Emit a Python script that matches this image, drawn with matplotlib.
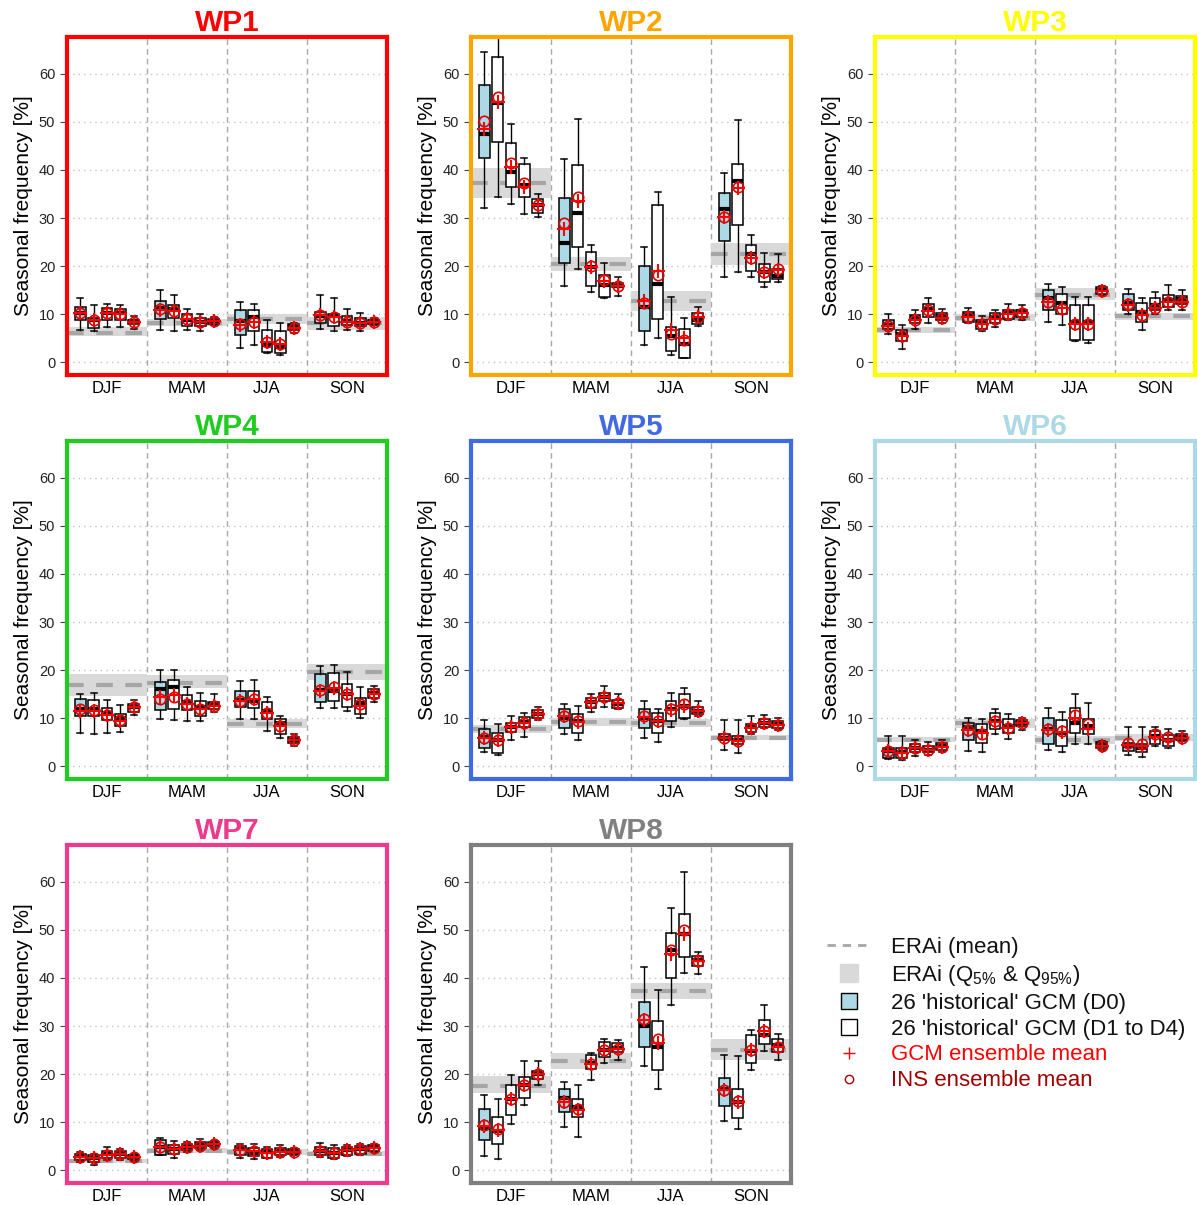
import matplotlib
matplotlib.use('Agg')
import matplotlib.pyplot as plt
import numpy as np
from matplotlib.lines import Line2D

plt.rcParams['font.family'] = ['Liberation Sans', 'DejaVu Sans']
plt.rcParams['mathtext.default'] = 'regular'

panels = ['WP1', 'WP2', 'WP3', 'WP4', 'WP5', 'WP6', 'WP7', 'WP8']
panel_colors = ['#ff0000', '#ffa500', '#ffff00', '#1fcc1f',
                '#4169e1', '#add8e6', '#ee3a8c', '#808080']
seasons = ['DJF', 'MAM', 'JJA', 'SON']

# per panel: 4 seasons x 5 boxes (D0, D1..D4)
whisk_hi = [
    [13.3, 11.9, 12.1, 11.9, 9.6, 15.0, 14.0, 11.2, 10.0, 9.4, 12.6, 12.1, 8.9, 8.2, 8.2, 14.0, 13.3, 11.2, 10.3, 9.3],
    [64.4, 69.0, 49.6, 42.4, 34.9, 42.3, 50.5, 24.3, 20.7, 17.7, 23.9, 35.4, 13.6, 9.3, 11.5, 39.4, 50.3, 26.4, 22.7, 22.5],
    [10.1, 7.7, 11.0, 13.3, 11.2, 11.3, 9.6, 11.0, 12.2, 11.9, 16.4, 15.7, 13.5, 13.5, 15.8, 15.3, 13.4, 14.7, 16.0, 15.0],
    [15.1, 15.3, 13.75, 12.7, 13.75, 20.0, 20.0, 16.6, 15.2, 15.0, 17.8, 18.0, 14.4, 10.5, 6.7, 20.9, 21.0, 19.7, 16.6, 16.7],
    [9.6, 8.9, 10.5, 11.2, 12.4, 12.9, 12.6, 15.1, 16.7, 15.0, 13.5, 11.9, 15.3, 16.2, 13.6, 9.7, 9.6, 10.5, 10.7, 10.0],
    [6.3, 6.3, 5.4, 5.1, 5.4, 10.1, 9.8, 12.0, 10.8, 10.1, 12.1, 11.4, 15.1, 13.1, 5.3, 8.2, 8.1, 8.3, 7.7, 7.4],
    [3.9, 3.5, 4.9, 4.55, 3.5, 6.8, 6.1, 5.9, 6.5, 6.1, 5.6, 5.6, 4.9, 5.2, 4.7, 5.7, 5.2, 5.2, 5.6, 5.4],
    [15.6, 14.9, 19.9, 22.7, 22.7, 18.3, 17.8, 24.4, 27.4, 27.2, 42.2, 37.5, 54.6, 62.0, 45.4, 23.9, 23.7, 29.2, 34.4, 28.3],
]
box_q3 = [
    [11.5, 9.3, 11.4, 11.2, 8.9, 12.8, 11.9, 10.0, 9.3, 9.1, 10.9, 11.0, 6.8, 6.5, 7.9, 10.5, 10.0, 9.6, 9.3, 8.9],
    [57.6, 63.5, 45.6, 41.2, 33.9, 34.2, 41.0, 22.9, 18.2, 16.6, 20.0, 32.8, 7.3, 7.0, 10.2, 35.2, 41.2, 24.4, 20.4, 19.5],
    [8.75, 6.8, 9.9, 12.2, 10.3, 10.5, 8.9, 10.3, 11.0, 11.0, 15.1, 14.3, 11.9, 11.9, 15.6, 14.3, 12.4, 13.4, 14.1, 13.8],
    [14.0, 13.8, 12.2, 11.0, 12.9, 17.6, 17.9, 14.8, 13.6, 13.4, 15.7, 15.7, 13.4, 9.8, 6.1, 19.2, 19.4, 17.1, 14.2, 16.0],
    [7.8, 6.9, 9.1, 10.3, 11.7, 11.9, 10.8, 14.2, 15.3, 13.8, 11.9, 11.2, 13.6, 15.1, 12.4, 6.8, 6.3, 8.9, 9.8, 9.4],
    [3.9, 3.75, 4.7, 4.2, 4.9, 9.1, 8.75, 11.2, 9.8, 9.6, 10.0, 9.6, 12.2, 9.8, 5.1, 4.9, 4.7, 7.4, 6.5, 6.8],
    [3.5, 3.2, 4.0, 4.0, 3.3, 6.3, 5.2, 5.4, 5.9, 5.9, 5.0, 4.7, 4.55, 4.7, 4.55, 4.9, 4.7, 4.9, 5.0, 5.2],
    [12.7, 11.2, 17.8, 19.5, 20.7, 16.9, 14.8, 23.9, 26.7, 26.5, 35.0, 31.1, 49.3, 53.2, 44.5, 19.3, 16.9, 28.1, 31.3, 27.4],
]
box_med = [
    [10.3, 8.8, 10.3, 10.2, 8.6, 11.4, 11.2, 8.9, 8.4, 8.7, 8.7, 9.4, 3.7, 3.3, 7.5, 9.6, 9.6, 8.7, 8.2, 8.6],
    [47.5, 53.8, 39.6, 36.8, 32.8, 24.8, 31.1, 19.8, 16.0, 15.9, 11.5, 16.3, 5.6, 3.9, 8.8, 31.8, 37.7, 22.5, 18.7, 18.0],
    [7.8, 6.0, 9.4, 11.2, 9.6, 9.8, 8.1, 9.4, 10.5, 10.7, 13.3, 12.4, 8.4, 8.4, 15.0, 12.4, 10.5, 11.9, 12.9, 13.1],
    [11.9, 11.9, 11.2, 10.1, 12.4, 16.0, 16.5, 13.4, 12.4, 12.9, 13.75, 13.6, 11.5, 9.1, 5.5, 15.8, 15.7, 15.1, 13.1, 15.3],
    [6.1, 5.4, 8.2, 9.2, 11.0, 10.1, 9.4, 13.4, 14.4, 12.9, 10.1, 9.4, 11.9, 12.6, 11.5, 6.0, 5.4, 8.1, 9.1, 8.75],
    [3.3, 3.1, 3.75, 3.5, 4.2, 8.1, 7.4, 9.4, 8.5, 9.1, 7.7, 7.0, 9.1, 8.5, 4.6, 4.2, 3.75, 6.3, 5.6, 6.1],
    [3.0, 2.5, 3.4, 3.4, 3.0, 4.9, 4.4, 4.9, 5.2, 5.6, 4.4, 3.7, 3.9, 4.1, 4.1, 4.0, 3.7, 4.3, 4.4, 4.8],
    [8.9, 8.2, 14.8, 17.8, 20.1, 15.0, 13.1, 22.3, 25.1, 25.5, 30.1, 25.7, 45.8, 49.2, 43.8, 16.9, 14.2, 24.8, 28.1, 26.0],
]
box_q1 = [
    [8.9, 7.2, 8.9, 8.9, 7.9, 9.1, 9.3, 7.5, 7.5, 8.0, 5.8, 6.6, 2.2, 2.0, 6.8, 8.2, 7.5, 7.7, 7.5, 8.0],
    [42.4, 45.7, 36.4, 34.4, 31.1, 20.7, 23.9, 15.9, 13.6, 15.6, 6.5, 9.1, 2.3, 1.0, 8.0, 25.3, 28.6, 18.9, 16.7, 17.3],
    [7.0, 4.4, 8.1, 9.4, 8.75, 8.5, 7.0, 8.1, 9.1, 9.4, 10.8, 10.1, 4.7, 4.6, 14.2, 10.8, 8.5, 10.8, 11.5, 12.2],
    [10.5, 10.5, 9.6, 8.4, 11.4, 11.7, 11.9, 11.7, 10.5, 11.9, 12.4, 12.2, 9.8, 6.8, 4.9, 13.4, 13.6, 12.4, 10.8, 14.2],
    [3.75, 2.85, 7.2, 8.2, 10.1, 7.9, 7.0, 12.2, 13.6, 12.2, 7.9, 7.0, 9.4, 10.1, 10.8, 5.4, 4.6, 7.2, 8.2, 7.9],
    [1.8, 1.8, 3.1, 3.0, 3.5, 5.4, 4.9, 7.7, 7.0, 8.4, 4.7, 4.2, 7.0, 6.7, 3.75, 3.3, 3.1, 4.7, 4.2, 5.4],
    [2.1, 1.7, 2.5, 2.6, 2.3, 3.3, 3.5, 4.2, 4.7, 5.0, 3.3, 3.0, 2.6, 3.3, 3.5, 3.3, 2.5, 3.2, 3.5, 4.1],
    [6.4, 5.6, 11.5, 15.1, 19.1, 12.2, 11.2, 21.1, 23.6, 24.6, 25.7, 20.9, 40.0, 44.3, 42.4, 13.3, 11.0, 22.3, 26.2, 24.6],
]
whisk_lo = [
    [6.8, 6.5, 7.3, 7.3, 7.0, 6.8, 6.5, 6.8, 6.5, 7.7, 3.0, 3.7, 2.0, 1.5, 6.1, 7.0, 6.6, 6.8, 6.5, 7.7],
    [32.1, 34.3, 33.0, 30.9, 30.2, 15.8, 19.4, 14.7, 13.3, 13.8, 3.7, 5.0, 1.6, 1.0, 7.5, 17.7, 18.8, 17.7, 15.7, 16.7],
    [6.0, 2.7, 7.0, 8.1, 8.1, 8.1, 6.5, 7.4, 8.75, 8.75, 8.4, 7.8, 4.4, 4.0, 14.0, 10.1, 6.8, 10.1, 11.0, 10.8],
    [7.0, 6.8, 7.0, 7.2, 10.7, 9.8, 9.7, 9.4, 9.4, 11.3, 9.8, 9.8, 7.4, 6.0, 4.2, 12.2, 12.2, 11.5, 10.1, 13.4],
    [3.0, 2.3, 5.4, 6.2, 9.6, 6.7, 5.4, 11.4, 12.4, 11.9, 6.0, 5.1, 8.3, 9.8, 10.5, 3.5, 2.85, 6.8, 7.9, 7.5],
    [1.5, 1.3, 2.15, 2.3, 3.1, 3.3, 3.1, 6.7, 5.8, 7.5, 3.5, 3.1, 4.7, 4.7, 3.5, 2.4, 2.0, 4.2, 3.75, 5.3],
    [1.8, 1.2, 2.1, 2.1, 1.9, 3.2, 2.5, 3.9, 4.2, 4.7, 2.6, 2.3, 2.5, 2.8, 3.2, 2.8, 2.3, 3.0, 3.2, 3.9],
    [3.1, 2.3, 9.6, 13.6, 17.8, 9.1, 7.0, 18.8, 22.3, 23.0, 21.6, 16.9, 34.4, 41.0, 40.8, 10.3, 8.6, 20.9, 24.8, 22.9],
]
gcm_mean = [
    [10.2, 8.8, 10.2, 10.0, 8.5, 11.0, 10.6, 9.0, 8.5, 8.6, 7.8, 8.4, 4.2, 3.8, 7.2, 9.8, 9.5, 8.5, 8.1, 8.5],
    [48.5, 54.0, 40.5, 36.5, 32.8, 27.8, 33.5, 19.9, 17.0, 15.9, 12.8, 19.0, 6.8, 5.0, 9.5, 30.3, 36.2, 21.6, 18.7, 19.2],
    [7.6, 5.5, 8.9, 10.7, 9.3, 9.5, 7.9, 9.0, 10.0, 10.2, 12.5, 11.3, 8.0, 7.9, 14.8, 12.0, 9.8, 11.3, 12.6, 12.5],
    [11.6, 11.6, 10.6, 9.5, 12.3, 14.5, 14.9, 13.0, 12.0, 12.6, 13.5, 14.0, 11.2, 8.5, 5.4, 15.6, 16.2, 15.0, 12.6, 15.1],
    [6.0, 5.5, 8.2, 9.0, 10.9, 10.5, 9.3, 13.3, 14.4, 13.2, 10.2, 9.5, 11.8, 12.6, 11.6, 5.9, 5.3, 8.0, 9.0, 8.7],
    [3.2, 2.9, 3.8, 3.5, 4.0, 7.5, 7.0, 9.3, 8.0, 9.0, 7.5, 7.1, 10.0, 7.8, 4.3, 4.4, 4.2, 6.2, 5.6, 6.0],
    [2.9, 2.5, 3.3, 3.4, 2.9, 4.9, 4.4, 4.8, 5.1, 5.5, 4.3, 4.0, 3.7, 3.9, 3.9, 4.0, 3.6, 4.2, 4.4, 4.7],
    [9.2, 8.5, 14.8, 17.8, 20.0, 14.2, 12.6, 22.2, 25.0, 25.3, 31.2, 26.5, 44.9, 49.1, 43.6, 16.7, 14.3, 25.0, 28.9, 25.7],
]
ins_mean = [
    [10.2, 8.9, 10.2, 10.0, 8.5, 11.1, 10.7, 9.0, 8.5, 8.6, 7.9, 8.5, 4.3, 3.9, 7.2, 9.9, 9.5, 8.5, 8.1, 8.5],
    [50.2, 55.2, 41.5, 37.3, 32.8, 28.9, 34.4, 20.0, 17.2, 15.9, 12.3, 18.1, 5.9, 4.7, 9.5, 30.2, 36.4, 21.8, 18.7, 19.4],
    [7.6, 5.6, 8.9, 10.8, 9.3, 9.5, 7.9, 9.0, 10.0, 10.2, 12.6, 11.1, 8.0, 7.9, 14.8, 12.2, 9.8, 11.4, 12.6, 12.5],
    [11.9, 11.8, 10.6, 9.6, 12.3, 14.0, 14.5, 13.0, 12.0, 12.6, 13.5, 14.0, 11.2, 8.5, 5.4, 15.9, 16.5, 15.0, 13.0, 15.1],
    [6.0, 5.5, 8.2, 9.0, 10.9, 10.4, 9.5, 13.3, 14.4, 13.2, 10.5, 9.5, 12.0, 12.9, 11.6, 5.9, 5.3, 8.0, 9.0, 8.7],
    [3.2, 2.9, 3.8, 3.5, 4.0, 7.6, 6.8, 9.5, 8.0, 9.0, 7.8, 7.3, 10.6, 8.8, 4.3, 4.9, 4.6, 6.7, 6.1, 6.0],
    [2.9, 2.5, 3.3, 3.4, 2.9, 4.9, 4.4, 4.8, 5.1, 5.5, 4.3, 4.0, 3.7, 3.9, 3.9, 4.0, 3.6, 4.2, 4.4, 4.7],
    [9.5, 8.7, 14.8, 17.8, 20.0, 14.2, 12.8, 22.2, 25.0, 25.3, 31.5, 27.4, 45.8, 50.0, 43.6, 16.7, 14.5, 25.0, 28.9, 25.7],
]
# ERAi per panel and season
erai_mean = [[6.2, 8.2, 9.1, 8.2], [37.3, 20.5, 12.7, 22.6], [6.7, 9.3, 14.0, 9.6], [17.0, 17.4, 8.8, 19.6],
             [7.8, 9.3, 9.1, 6.0], [5.5, 9.0, 5.6, 6.0], [1.9, 4.1, 3.9, 3.5], [17.6, 22.8, 37.2, 25.1]]
erai_q05 = [[5.4, 7.5, 8.0, 6.8], [34.2, 19.0, 10.6, 20.3], [6.2, 8.6, 12.9, 8.9], [14.6, 16.2, 7.9, 18.0],
            [7.0, 8.5, 8.3, 5.4], [5.0, 8.0, 4.7, 5.2], [1.5, 3.7, 3.3, 3.0], [16.0, 21.0, 35.6, 23.0]]
erai_q95 = [[7.4, 9.1, 10.0, 9.4], [40.4, 22.0, 14.8, 24.8], [7.3, 10.0, 15.4, 10.3], [19.3, 19.0, 9.8, 21.2],
            [8.7, 10.0, 9.9, 6.6], [6.1, 9.8, 6.4, 6.7], [2.4, 4.6, 4.4, 4.1], [19.6, 24.5, 39.0, 27.3]]

W, H = 1197, 1205
fig = plt.figure(figsize=(W / 100, H / 100), dpi=100)
lefts = [67, 471, 875]
tops = [37, 441, 845]
aw, ah = 320, 338

band_col = '#d9d9d9'
dash_col = '#a6a6a6'

for p in range(8):
    r, c = divmod(p, 3)
    ax = fig.add_axes([lefts[c] / W, 1 - (tops[r] + ah) / H, aw / W, ah / H])
    ax.set_xlim(0, 24)
    ax.set_ylim(-2.6, 67.6)
    ax.set_yticks(range(0, 61, 10))
    ax.yaxis.grid(True, linestyle=(0, (1, 3)), color='#c4c4c4', lw=1)
    ax.set_axisbelow(True)
    for s in range(1, 4):
        ax.axvline(6 * s, ls=(0, (4, 3)), color='#a8a8a8', lw=1, zorder=0.8)

    for s in range(4):
        ax.fill_between([6 * s, 6 * s + 6], erai_q05[p][s], erai_q95[p][s],
                        color=band_col, lw=0, zorder=1)
        ax.plot([6 * s, 6 * s + 6], [erai_mean[p][s]] * 2, color=dash_col,
                lw=3, ls=(0, (4, 3)), solid_capstyle='butt', zorder=1.1)

    stats = []
    pos = []
    for s in range(4):
        for k in range(5):
            i = s * 5 + k
            stats.append(dict(med=box_med[p][i], q1=box_q1[p][i], q3=box_q3[p][i],
                              whislo=whisk_lo[p][i], whishi=whisk_hi[p][i], fliers=[]))
            pos.append(6 * s + k + 1)
    bp = ax.bxp(stats, positions=pos, widths=0.8, patch_artist=True, showfliers=False,
                boxprops=dict(edgecolor='black', linewidth=1.1),
                medianprops=dict(color='black', linewidth=3, solid_capstyle='butt'),
                whiskerprops=dict(color='black', linewidth=1),
                capprops=dict(color='black', linewidth=1.1), capwidths=0.45,
                manage_ticks=False, zorder=2)
    for j, box in enumerate(bp['boxes']):
        box.set_facecolor('#add8e6' if j % 5 == 0 else 'white')

    ax.plot(pos, ins_mean[p], ls='none', marker='o', ms=7.5, mfc='none',
            mec='#dd0000', mew=1.2, zorder=3)
    ax.plot(pos, gcm_mean[p], ls='none', marker='+', ms=10, mec='#ff0000',
            mew=1.5, zorder=3.1)

    ax.set_xticks([3, 9, 15, 21])
    ax.set_xticklabels(seasons, fontsize=12)
    ax.tick_params(axis='x', length=0, pad=4)
    ax.tick_params(axis='y', direction='out', length=5, labelsize=10.5,
                   color='#444444', labelcolor='#222222')
    ax.set_ylabel('Seasonal frequency [%]', fontsize=15, labelpad=4)
    for sp in ax.spines.values():
        sp.set_color(panel_colors[p])
        sp.set_linewidth(3)
    ax.set_title(panels[p], color=panel_colors[p], fontsize=21.5,
                 fontweight='bold', pad=0)

handles = [
    Line2D([], [], color=dash_col, lw=2, ls=(0, (3, 2.5))),
    Line2D([], [], ls='none', marker='s', ms=13, mfc=band_col, mec=band_col),
    Line2D([], [], ls='none', marker='s', ms=11, mfc='#add8e6', mec='black', mew=1),
    Line2D([], [], ls='none', marker='s', ms=11, mfc='white', mec='black', mew=1),
    Line2D([], [], ls='none', marker='+', ms=8, mec='#ff0000', mew=1),
    Line2D([], [], ls='none', marker='o', ms=6, mfc='none', mec='#a00000', mew=1),
]
labels = ['ERAi (mean)', r'ERAi (Q$_{5\%}$ & Q$_{95\%}$)', "26 'historical' GCM (D0)",
          "26 'historical' GCM (D1 to D4)", 'GCM ensemble mean', 'INS ensemble mean']
fig.legend(handles, labels, loc='upper left', bbox_to_anchor=(818 / W, 1 - 928 / H),
           frameon=False, fontsize=16, handlelength=2.0, handletextpad=0.9,
           labelspacing=0.22, borderaxespad=0,
           labelcolor=['#111111', '#111111', '#111111', '#111111', '#ff0000', '#a00000'])

fig.savefig('out.png', dpi=100)
